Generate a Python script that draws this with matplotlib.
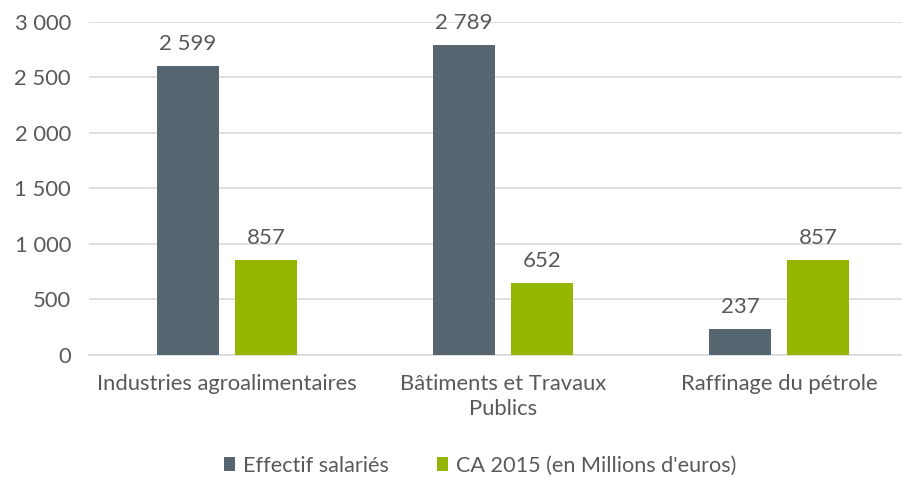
import matplotlib.pyplot as plt
import numpy as np
from matplotlib.ticker import FuncFormatter

categories = ["Industries agroalimentaires", "Bâtiments et Travaux\nPublics", "Raffinage du pétrole"]
effectif = [2599, 2789, 237]
ca_2015 = [857, 652, 857]
series_names = ["Effectif salariés", "CA 2015 (en Millions d'euros)"]
y_ticks = [0, 500, 1000, 1500, 2000, 2500, 3000]

DARK = "#556671"
GREEN = "#94b600"
TEXT = "#595959"
GRID = "#d9d9d9"


def fmt_thousands(value, _pos=None):
    return f"{int(value):,}".replace(",", " ")


def main():
    plt.rcParams["font.family"] = ["Lato", "DejaVu Sans"]
    fig = plt.figure(figsize=(9.02, 4.79), dpi=100)
    ax = fig.add_axes([89 / 902, 1 - 355 / 479, 828 / 902, (355 - 21.5) / 479])

    x = np.arange(len(categories))
    width = 0.225
    offset = 0.141
    bars1 = ax.bar(x - offset, effectif, width, color=DARK, label=series_names[0], zorder=3)
    bars2 = ax.bar(x + offset, ca_2015, width, color=GREEN, label=series_names[1], zorder=3)

    for bars in (bars1, bars2):
        for bar in bars:
            ax.annotate(fmt_thousands(bar.get_height()),
                        (bar.get_x() + bar.get_width() / 2, bar.get_height()),
                        xytext=(0, 8.5), textcoords="offset points",
                        ha="center", va="bottom", fontsize=16, color=TEXT)

    ax.set_xlim(-0.5, len(categories) - 0.5)
    ax.set_ylim(0, 3000)
    ax.set_yticks(y_ticks)
    ax.yaxis.set_major_formatter(FuncFormatter(fmt_thousands))
    ax.set_xticks(x)
    ax.set_xticklabels(categories, linespacing=1.3)
    ax.tick_params(axis="both", length=0, colors=TEXT, labelsize=15.8)
    ax.tick_params(axis="x", pad=14)
    ax.tick_params(axis="y", pad=13)
    ax.grid(axis="y", color=GRID, linewidth=1.2, zorder=0)
    for side in ("top", "right", "left"):
        ax.spines[side].set_visible(False)
    ax.spines["bottom"].set_color(GRID)
    ax.spines["bottom"].set_linewidth(1.2)

    fig.legend(handles=[bars1, bars2], labels=series_names, loc="center",
               bbox_to_anchor=(480 / 902, 1 - 466 / 479), ncol=2, frameon=False,
               fontsize=15.6, labelcolor=TEXT, handlelength=0.55, handleheight=0.6,
               handletextpad=0.35, columnspacing=2.2)

    fig.savefig("out.png", dpi=100)


if __name__ == "__main__":
    main()
